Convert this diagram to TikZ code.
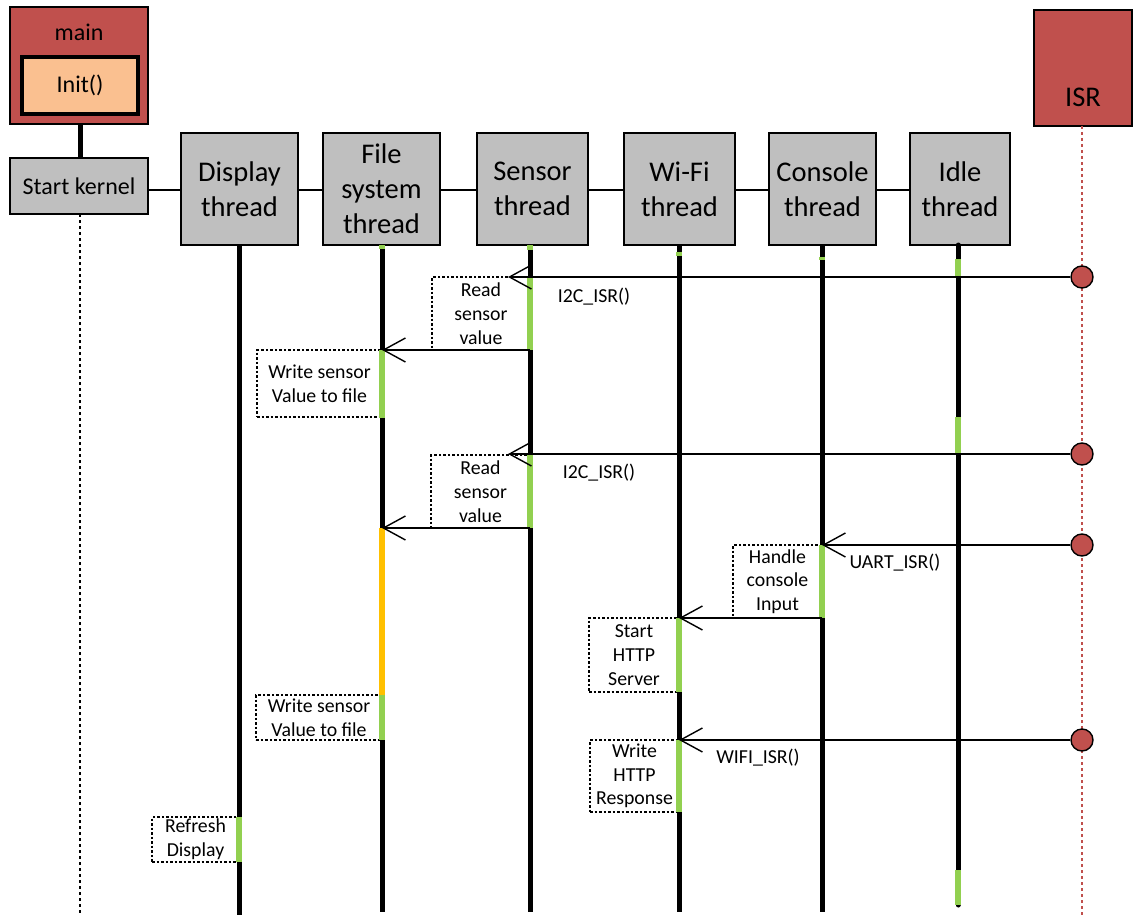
\documentclass[tikz,border=0pt]{standalone}
\usepackage{fontspec}
\setmainfont{Carlito}
\usetikzlibrary{arrows.meta}
\definecolor{isrred}{HTML}{C0504D}
\definecolor{peach}{HTML}{FAC090}
\definecolor{boxgray}{HTML}{BFBFBF}
\definecolor{actgreen}{HTML}{92D050}
\definecolor{actorange}{HTML}{FFC000}
\begin{document}
\begin{tikzpicture}[x=1pt,y=-1pt,
  redbox/.style={draw=black, line width=1.8pt, fill=isrred, inner sep=0pt, outer sep=0pt},
  initbox/.style={draw=black, line width=3.2pt, fill=peach, inner sep=0pt, outer sep=0pt, font=\fontsize{24}{28}\selectfont},
  thread/.style={draw=black, line width=1.6pt, fill=boxgray, inner sep=0pt, outer sep=0pt, align=center, minimum height=112pt, font=\fontsize{28.5}{35}\selectfont},
  note/.style={draw=black, line width=1.2pt, dash pattern=on 2.5pt off 2pt, inner sep=0pt, outer sep=0pt, align=center, font=\fontsize{19.8}{23.7}\selectfont},
  lifeline/.style={line width=5pt},
  act/.style={line width=6pt, actgreen},
  wait/.style={line width=6pt, actorange},
  msg/.style={line width=1.4pt, -{Straight Barb[length=22pt,width=24pt,line width=1.4pt]}},
  msglabel/.style={font=\fontsize{19.8}{23.7}\selectfont, inner sep=0pt},
  irq/.style={circle, draw=black, line width=1.4pt, fill=isrred, minimum size=22pt, inner sep=0pt}
]
\useasboundingbox (0,0) rectangle (1135,915);

% ---- main / start kernel
\node[redbox, minimum width=138pt, minimum height=117pt] (main) at (79,65.5) {};
\node[font=\fontsize{24}{28}\selectfont, inner sep=0pt] (maintxt) at (79,32) {main};
\node[initbox, minimum width=116pt, minimum height=57pt] (init) at (80,85.5) {Init()};
\node[thread, minimum width=138pt, minimum height=56pt, font=\fontsize{24}{28}\selectfont] (sk) at (79,186) {Start kernel};
\draw[line width=5pt] (main.south -| 80,0) -- (sk.north -| 80,0);
\coordinate (skend) at (80,915);
\draw[line width=2.4pt, dash pattern=on 2.5pt off 3.5pt] (sk.south -| 80,0) -- (skend);

% ---- thread boxes
\node[thread, minimum width=117pt] (disp) at (239.5,189) {Display\\thread};
\node[thread, minimum width=117pt] (fs) at (381.5,189) {File\\system\\thread};
\node[thread, minimum width=111pt] (sens) at (532.5,189) {Sensor\\thread};
\node[thread, minimum width=111pt] (wifi) at (679.5,189) {Wi-Fi\\thread};
\node[thread, minimum width=107pt] (cons) at (822.5,189) {Console\\thread};
\node[thread, minimum width=100pt] (idle) at (960,189) {Idle\\thread};
\node[redbox, minimum width=98pt, minimum height=116pt] (isr) at (1083,68) {};
\node[font=\fontsize{28.5}{35}\selectfont, inner sep=0pt] (isrtxt) at (1083,97) {ISR};

% connecting line
\draw[line width=1.2pt] (sk.east |- 0,190) -- (disp.west |- 0,190);
\draw[line width=1.2pt] (disp.east |- 0,190) -- (fs.west |- 0,190);
\draw[line width=1.2pt] (fs.east |- 0,190) -- (sens.west |- 0,190);
\draw[line width=1.2pt] (sens.east |- 0,190) -- (wifi.west |- 0,190);
\draw[line width=1.2pt] (wifi.east |- 0,190) -- (cons.west |- 0,190);
\draw[line width=1.2pt] (cons.east |- 0,190) -- (idle.west |- 0,190);

% ---- lifeline end points
\coordinate (dispend) at (239,915);
\coordinate (fsend) at (382,912);
\coordinate (sensend) at (530,912);
\coordinate (wifiend) at (679,912);
\coordinate (consend) at (822,912);
\coordinate (idleend) at (958,905);
\coordinate (isrend) at (1082,915);

\draw[lifeline] (disp.south -| dispend) -- (dispend);
\draw[lifeline] (fs.south -| fsend) -- (fsend);
\draw[lifeline] (sens.south -| sensend) -- (sensend);
\draw[lifeline] (wifi.south -| wifiend) -- (wifiend);
\draw[lifeline] (cons.south -| consend) -- (consend);
\draw[lifeline, line cap=round] (idle.south -| idleend) -- (idleend);
\draw[isrred, line width=2.8pt, dash pattern=on 3pt off 3pt] (isr.south -| isrend) -- (isrend);

% ---- notes
\node[note, minimum width=98pt, minimum height=73pt] (n1) at (481,313.5) {Read\\sensor\\value};
\node[note, minimum width=125pt, minimum height=67pt] (n2) at (319.5,383.5) {Write sensor\\Value to file};
\node[note, minimum width=99pt, minimum height=73pt] (n3) at (480.5,491.5) {Read\\sensor\\value};
\node[note, minimum width=89pt, minimum height=73pt] (n4) at (777.5,581.5) {Handle\\console\\Input};
\node[note, minimum width=90pt, minimum height=74pt] (n5) at (634,655) {Start\\HTTP\\Server};
\node[note, minimum width=126pt, minimum height=45pt] (n6) at (319,717.5) {Write sensor\\Value to file};
\node[note, minimum width=89pt, minimum height=72pt] (n7) at (634.5,776) {Write\\HTTP\\Response};
\node[note, minimum width=87pt, minimum height=45pt] (n8) at (195.5,839.5) {Refresh\\Display};

% ---- activation bars
\draw[act] (382,245) -- (382,248.5);
\draw[act] (530,245) -- (530,250);
\draw[act] (679,251.5) -- (679,255.5);
\draw[act] (822,256.5) -- (822,260);
\draw[act] (958,259) -- (958,277);
\draw[act] (530,277) -- (530,350);
\draw[act] (382,350) -- (382,418);
\draw[act] (958,417) -- (958,454);
\draw[act] (530,455) -- (530,528);
\draw[wait] (382,528) -- (382,695);
\draw[act] (382,695) -- (382,740);
\draw[act] (822,545) -- (822,618);
\draw[act] (679,618) -- (679,692);
\draw[act] (679,740) -- (679,812);
\draw[act] (239,817) -- (239,862);
\draw[act] (958,870) -- (958,905);

% ---- interrupts and messages
\node[irq] (c1) at (1082,277) {};
\node[irq] (c2) at (1082,454) {};
\node[irq] (c3) at (1082,545) {};
\node[irq] (c4) at (1082,740) {};

\coordinate (s1) at (508,277);
\coordinate (f1) at (382,350);
\coordinate (s2) at (508,454);
\coordinate (f2) at (382,528);
\coordinate (k1) at (822,545);
\coordinate (w1) at (679,618);
\coordinate (w2) at (679,740);

\draw[msg] (c1.west) -- (s1);
\draw[msg] (sens.south |- f1) ++(-2.5,0) -- (f1);
\draw[msg] (c2.west) -- (s2);
\draw[msg] (sens.south |- f2) ++(-2.5,0) -- (f2);
\draw[msg] (c3.west) -- (k1);
\draw[msg] (cons.south |- w1) ++(-0.5,0) -- (w1);
\draw[msg] (c4.west) -- (w2);

\node[msglabel] (l1) at (594,297) {I2C\_ISR()};
\node[msglabel] (l2) at (599,473) {I2C\_ISR()};
\node[msglabel] (l3) at (895,563) {UART\_ISR()};
\node[msglabel] (l4) at (758,758) {WIFI\_ISR()};
\end{tikzpicture}
\end{document}
